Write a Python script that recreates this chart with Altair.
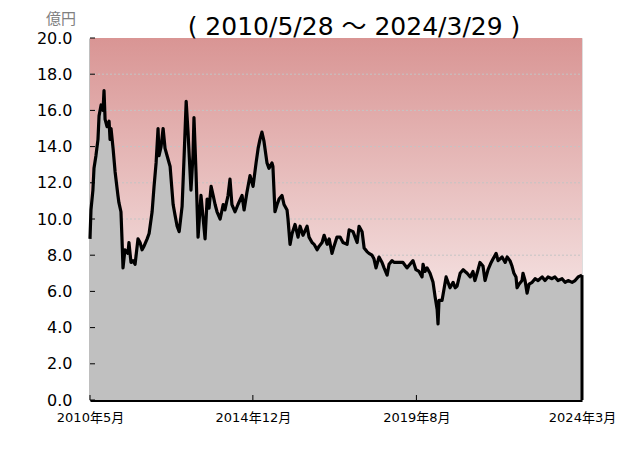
import altair as alt
import pandas as pd

# ---- data ----
dates = [
    "2010-05-28", "2010-06-07", "2010-06-27", "2010-07-08", "2010-07-28", "2010-08-18", "2010-08-29",
    "2010-09-19", "2010-10-09", "2010-10-19", "2010-10-30", "2010-11-19", "2010-12-10", "2010-12-20",
    "2010-12-30", "2011-01-20", "2011-02-10", "2011-03-11", "2011-03-21", "2011-04-11", "2011-04-21",
    "2011-05-02", "2011-05-22", "2011-06-22", "2011-07-02", "2011-07-23", "2011-08-13", "2011-09-03",
    "2011-10-03", "2011-10-24", "2011-11-14", "2011-12-04", "2012-01-05", "2012-01-25", "2012-02-25",
    "2012-03-16", "2012-04-06", "2012-04-26", "2012-05-06", "2012-05-27", "2012-06-17", "2012-07-07",
    "2012-08-07", "2012-08-28", "2012-09-28", "2012-10-18", "2012-11-08", "2012-11-29", "2012-12-29",
    "2013-01-19", "2013-02-09", "2013-02-28", "2013-03-30", "2013-04-20", "2013-04-30", "2013-05-21",
    "2013-06-11", "2013-07-11", "2013-08-01", "2013-08-22", "2013-09-12", "2013-10-02", "2013-10-23",
    "2013-11-13", "2013-12-03", "2013-12-23", "2014-01-24", "2014-02-24", "2014-03-14", "2014-04-15",
    "2014-05-05", "2014-05-25", "2014-06-26", "2014-07-26", "2014-09-06", "2014-09-27", "2014-10-27",
    "2014-11-27", "2014-12-28", "2015-01-28", "2015-02-18", "2015-03-09", "2015-03-29", "2015-04-19",
    "2015-05-20", "2015-06-10", "2015-07-10", "2015-07-20", "2015-08-10", "2015-09-01", "2015-09-21",
    "2015-10-21", "2015-11-11", "2015-12-12", "2015-12-22", "2016-01-12", "2016-02-02", "2016-03-03",
    "2016-04-03", "2016-04-24", "2016-05-24", "2016-07-05", "2016-07-25", "2016-08-25", "2016-09-15",
    "2016-10-16", "2016-11-06", "2016-12-06", "2016-12-27", "2017-01-27", "2017-02-17", "2017-03-18",
    "2017-04-08", "2017-05-08", "2017-06-09", "2017-07-09", "2017-08-20", "2017-09-10", "2017-10-20",
    "2017-11-10", "2017-12-01", "2017-12-21", "2018-01-21", "2018-02-11", "2018-03-12", "2018-04-02",
    "2018-05-03", "2018-05-23", "2018-06-13", "2018-07-14", "2018-08-14", "2018-09-04", "2018-10-05",
    "2018-10-25", "2018-11-25", "2018-12-15", "2019-01-16", "2019-02-16", "2019-03-17", "2019-04-27",
    "2019-05-28", "2019-06-28", "2019-07-28", "2019-08-29", "2019-09-29", "2019-10-09", "2019-10-29",
    "2019-11-19", "2019-12-20", "2020-01-20", "2020-02-10", "2020-03-02", "2020-03-11", "2020-03-21",
    "2020-04-21", "2020-05-01", "2020-06-02", "2020-06-22", "2020-07-12", "2020-08-13", "2020-09-03",
    "2020-09-23", "2020-10-24", "2020-11-24", "2020-12-14", "2021-01-04", "2021-02-05", "2021-03-05",
    "2021-03-25", "2021-04-16", "2021-05-16", "2021-06-16", "2021-07-07", "2021-08-07", "2021-09-08",
    "2021-09-28", "2021-10-29", "2021-11-18", "2021-12-29", "2022-01-30", "2022-02-19", "2022-03-20",
    "2022-04-10", "2022-04-30", "2022-05-21", "2022-06-01", "2022-06-21", "2022-07-22", "2022-08-01",
    "2022-08-22", "2022-09-12", "2022-10-02", "2022-11-03", "2022-12-03", "2023-01-03", "2023-02-14",
    "2023-03-15", "2023-04-15", "2023-05-25", "2023-06-25", "2023-07-26", "2023-09-06", "2023-10-07",
    "2023-11-07", "2023-12-18", "2024-01-18", "2024-02-18", "2024-03-29",
]
values = [
    8.9, 10.5, 11.6, 12.8, 13.5, 14.4, 15.7,
    16.3, 16.0, 17.1, 15.5, 15.1, 15.4, 14.4,
    15.0, 13.9, 12.6, 11.3, 10.9, 10.4, 9.0,
    7.3, 8.3, 8.1, 8.7, 7.6, 7.7, 7.5,
    8.9, 8.7, 8.3, 8.5, 8.9, 9.2, 10.4,
    11.8, 13.1, 15.0, 13.5, 14.0, 15.0, 13.9,
    13.3, 12.9, 10.8, 10.2, 9.6, 9.3, 10.7,
    13.5, 16.5, 14.8, 11.6, 13.5, 15.6, 12.6,
    9.0, 11.3, 10.1, 8.9, 11.1, 10.6, 11.8,
    11.3, 10.8, 10.4, 10.0, 10.8, 10.5, 11.3,
    12.2, 10.8, 10.4, 10.8, 11.3, 10.5, 11.5,
    12.4, 11.8, 13.1, 13.9, 14.4, 14.8, 14.3,
    13.1, 12.8, 13.1, 12.9, 10.4, 10.8, 11.1,
    11.3, 10.8, 10.5, 10.0, 8.6, 9.2, 9.7,
    9.0, 9.6, 9.1, 9.6, 9.0, 8.7, 8.6,
    8.3, 8.5, 8.7, 9.1, 8.6, 8.9, 8.1,
    8.5, 9.0, 9.0, 8.7, 8.6, 9.4, 9.3,
    9.0, 8.7, 9.6, 9.3, 8.4, 8.2, 8.1,
    8.0, 7.8, 7.3, 7.9, 7.6, 7.3, 6.9,
    7.5, 7.7, 7.6, 7.6, 7.6, 7.6, 7.3,
    7.5, 7.7, 7.2, 7.1, 6.8, 7.5, 7.1,
    7.3, 7.0, 6.5, 5.7, 5.0, 4.2, 5.5,
    5.5, 5.8, 6.8, 6.5, 6.2, 6.5, 6.2,
    6.3, 7.0, 7.2, 7.1, 7.0, 6.8, 7.1,
    6.6, 7.0, 7.6, 7.4, 6.6, 7.2, 7.6,
    7.8, 8.1, 7.7, 7.9, 7.6, 7.9, 7.7,
    7.4, 7.0, 6.8, 6.2, 6.4, 6.6, 7.0,
    6.6, 5.9, 6.4, 6.5, 6.7, 6.6, 6.8,
    6.6, 6.8, 6.7, 6.8, 6.6, 6.7, 6.5,
    6.6, 6.5, 6.6, 6.8, 6.9,
]
tick_dates = ["2010-05-28", "2014-12-26", "2019-08-02", "2024-03-29"]
y_ticks = [0, 2, 4, 6, 8, 10, 12, 14, 16, 18, 20]
grid_lines = [2, 4, 6, 8, 10, 12, 14, 16, 18]
title_text = "( 2010/5/28 ～ 2024/3/29 )"
unit_text = "億円"

W, H = 492, 362

df = pd.DataFrame({"date": pd.to_datetime(dates), "value": values})
last = df.tail(1)
ticks_df = pd.DataFrame({"date": pd.to_datetime(tick_dates)})
yt_df = pd.DataFrame({"v": y_ticks})
grid_df = pd.DataFrame({"v": grid_lines})
one = pd.DataFrame({"a": [0]})

xscale = alt.Scale(domain=[alt.DateTime(year=2010, month=5, date=28),
                           alt.DateTime(year=2024, month=3, date=29)], nice=False)
yscale = alt.Scale(domain=[0, 20], nice=False, zero=True)

FONT = "DejaVu Sans, Noto Sans CJK JP"

x_axis = alt.Axis(values=[alt.DateTime(year=2010, month=5, date=28),
                          alt.DateTime(year=2014, month=12, date=26),
                          alt.DateTime(year=2019, month=8, date=2),
                          alt.DateTime(year=2024, month=3, date=29)],
                  format="%Y年%-m月", labelFontSize=13, labelFont=FONT,
                  labelFontWeight="normal", title=None,
                  labelColor="black", labelPadding=11, labelFlush=False,
                  labelOverlap=False, labelBound=False,
                  ticks=False, tickSize=0, grid=False,
                  domainColor="black", domainWidth=3)
y_axis = alt.Axis(values=y_ticks, format=".1f", labelFontSize=16, labelFont="DejaVu Sans",
                  labelFontWeight="normal", labelOverlap=False, labelBound=False,
                  labelFlush=False, title=None,
                  labelColor="black", labelPadding=18, ticks=False, tickSize=0,
                  grid=False, domainColor="black", domainWidth=1.5)

bg = alt.Chart(one).mark_rect(
    fill=alt.Gradient(gradient="linear", x1=0, y1=0, x2=0, y2=1,
                      stops=[alt.GradientStop(offset=0, color="#d99594"),
                             alt.GradientStop(offset=1, color="#ffffff")])
).encode(x=alt.value(0), x2=alt.value(W), y=alt.value(0), y2=alt.value(H))

grid = alt.Chart(grid_df).mark_rule(color="#c4c4c4", strokeDash=[2, 2], strokeWidth=1).encode(
    y=alt.Y("v:Q", scale=yscale, axis=y_axis, title=None), x=alt.value(0), x2=alt.value(W)
)

area = alt.Chart(df).mark_area(color="#c0c0c0", opacity=1).encode(
    x=alt.X("date:T", scale=xscale, axis=x_axis, title=None),
    y=alt.Y("value:Q", scale=yscale, axis=y_axis, title=None),
)

line = alt.Chart(df).mark_line(color="black", strokeWidth=3.2, strokeJoin="round").encode(
    x=alt.X("date:T", scale=xscale, axis=x_axis, title=None),
    y=alt.Y("value:Q", scale=yscale, axis=y_axis, title=None)
)

end_rule = alt.Chart(last).mark_rule(color="black", strokeWidth=3).encode(
    x=alt.X("date:T", scale=xscale, axis=x_axis, title=None),
    y=alt.Y("value:Q", scale=yscale, axis=y_axis, title=None),
    y2=alt.datum(0)
)

yticks = alt.Chart(yt_df).mark_rule(color="black", strokeWidth=1).encode(
    y=alt.Y("v:Q", scale=yscale, axis=y_axis, title=None), x=alt.value(0), x2=alt.value(5)
)

xticks = alt.Chart(ticks_df).mark_rule(color="black", strokeWidth=1).encode(
    x=alt.X("date:T", scale=xscale, axis=x_axis, title=None), y=alt.value(H - 5), y2=alt.value(H)
)

title = alt.Chart(one).mark_text(fontSize=25, font=FONT, color="black",
                                 align="center", baseline="alphabetic").encode(
    x=alt.value(264), y=alt.value(-3), text=alt.value(title_text)
)

unit = alt.Chart(one).mark_text(fontSize=15, font="Noto Sans CJK JP", color="#808080",
                                align="center", baseline="middle").encode(
    x=alt.value(-29), y=alt.value(-19), text=alt.value(unit_text)
)

chart = alt.layer(bg, grid, area, line, end_rule, yticks, xticks, title, unit).properties(
    width=W, height=H,
    padding={"left": 82, "top": 30, "right": 50, "bottom": 55},
    autosize=alt.AutoSizeParams(type="none"),
).configure_view(stroke="#bfbfbf", strokeWidth=1).configure(background="white")

chart.save("out.html", embed_options={"renderer": "svg", "actions": False})
